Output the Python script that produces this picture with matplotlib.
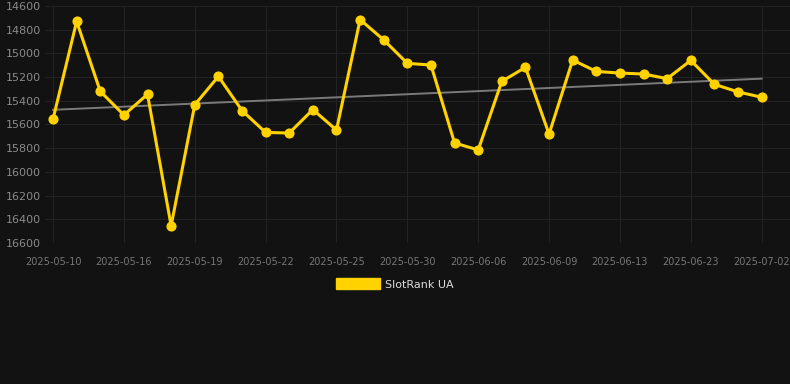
import matplotlib

matplotlib.use("Agg")
import matplotlib.pyplot as plt
from matplotlib.patches import Patch
import numpy as np

dates = [
    "2025-05-10", "2025-05-12", "2025-05-14", "2025-05-16", "2025-05-17", "2025-05-18",
    "2025-05-19", "2025-05-20", "2025-05-21", "2025-05-22", "2025-05-23", "2025-05-24",
    "2025-05-25", "2025-05-27", "2025-05-28", "2025-05-30", "2025-06-01", "2025-06-04",
    "2025-06-06", "2025-06-07", "2025-06-08", "2025-06-09", "2025-06-10", "2025-06-12",
    "2025-06-13", "2025-06-16", "2025-06-20", "2025-06-23", "2025-06-26", "2025-06-29",
    "2025-07-02",
]
rank = [
    15555, 14730, 15320, 15520, 15345, 16455, 15434, 15194, 15482, 15667, 15672,
    15474, 15647, 14715, 14886, 15084, 15098, 15756, 15815, 15236, 15118, 15681,
    15056, 15152, 15166, 15174, 15213, 15059, 15261, 15325, 15370,
]
trend_ends = [15476, 15213]
y_ticks = [14600, 14800, 15000, 15200, 15400, 15600, 15800, 16000, 16200, 16400, 16600]

bg = "#121212"
gold = "#FFD200"
text_col = "#8a8a8a"

fig = plt.figure(figsize=(7.9, 3.84), dpi=100, facecolor=bg)
ax = fig.add_axes([45 / 790, 1 - 243 / 384, 1 - 45 / 790, 237 / 384], facecolor=bg)

x = np.arange(len(dates))
ax.plot([x[0], x[-1]], trend_ends, color="#7a7a7a", lw=1.4, zorder=2)
ax.plot(x, rank, color=gold, lw=2.2, marker="o", ms=6.3, zorder=3)

ax.set_xlim(-0.34, 31.2)
ax.set_ylim(16600, 14600)
ax.set_yticks(y_ticks)
ax.set_yticklabels([str(v) for v in y_ticks], fontsize=8, color=text_col)
tick_idx = list(range(0, len(dates), 3))
ax.set_xticks(tick_idx)
ax.set_xticklabels([dates[i] for i in tick_idx], fontsize=7, color="#777777")
ax.tick_params(length=0)
ax.tick_params(axis="x", pad=10)
ax.tick_params(axis="y", pad=3)
ax.grid(True, color="#232323", lw=0.8)
ax.set_axisbelow(True)
for s in ax.spines.values():
    s.set_visible(False)

fig.legend(handles=[Patch(color=gold, label="SlotRank UA")], loc="center",
           bbox_to_anchor=(0.5, 1 - 284 / 384), frameon=False, fontsize=8,
           labelcolor="#dddddd", handlelength=3.9, handleheight=1.1, handletextpad=0.5)

fig.savefig("out.png", dpi=100, facecolor=bg)
